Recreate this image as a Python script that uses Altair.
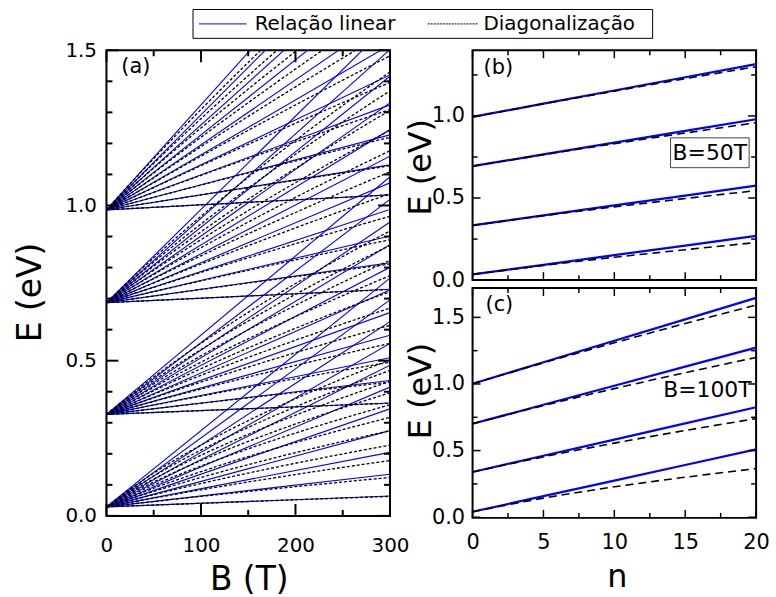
import altair as alt
import pandas as pd

FONT = "DejaVu Sans"
BLUE = "#0000ff"

# ---------------- values ----------------
# panel (a): four subband edges at B = 0 and the Landau fan (levels n = 0..10)
subband_edge = [0.029, 0.327, 0.687, 0.986]          # eV at B = 0
spacing_50T = [0.0117, 0.01215, 0.0143, 0.0161]      # level spacing at 50 T (eV), slope of (b)
bend_scale = [0.85, 2.0, 3.5, 7.0]                   # how strongly the dashed curves bend (eV)
levels_a = list(range(11))
B_samples = list(range(0, 301, 10))

# panels (b) and (c): E versus n
n_values = [0, 5, 10, 15, 20]
b_lin_1 = [0.035, 0.093, 0.152, 0.210, 0.269]
b_lin_2 = [0.333, 0.394, 0.455, 0.515, 0.576]
b_lin_3 = [0.694, 0.766, 0.837, 0.909, 0.980]
b_lin_4 = [0.994, 1.075, 1.155, 1.236, 1.316]
b_dia_1 = [0.035, 0.089, 0.139, 0.185, 0.229]
b_dia_2 = [0.333, 0.392, 0.446, 0.497, 0.545]
b_dia_3 = [0.694, 0.764, 0.831, 0.896, 0.959]
b_dia_4 = [0.994, 1.074, 1.151, 1.227, 1.300]
c_lin_1 = [0.041, 0.158, 0.275, 0.392, 0.509]
c_lin_2 = [0.339, 0.461, 0.582, 0.704, 0.825]
c_lin_3 = [0.701, 0.844, 0.987, 1.130, 1.273]
c_lin_4 = [1.002, 1.163, 1.324, 1.485, 1.646]
c_dia_1 = [0.041, 0.143, 0.228, 0.300, 0.365]
c_dia_2 = [0.339, 0.453, 0.556, 0.651, 0.740]
c_dia_3 = [0.701, 0.838, 0.965, 1.085, 1.199]
c_dia_4 = [1.002, 1.159, 1.309, 1.454, 1.593]

panel_tags = ["(a)", "(b)", "(c)"]
field_tags = ["B=50T", "B=100T"]
legend_labels = ["Relação linear", "Diagonalização"]

# ---------------- tables ----------------
rows_lin, rows_dia = [], []
for i, (e0, s50, g) in enumerate(zip(subband_edge, spacing_50T, bend_scale)):
    for n in levels_a:
        cid = f"s{i}n{n}"
        for B in [0, 300]:
            eps = (n + 0.5) * s50 * B / 50.0
            rows_lin.append({"x": B, "E": e0 + eps, "curve": cid})
        for B in B_samples:
            eps = (n + 0.5) * s50 * B / 50.0
            eps_d = 0.5 * g * ((1 + 4 * eps / g) ** 0.5 - 1)
            rows_dia.append({"x": B, "E": e0 + eps_d, "curve": cid})
a_lin = pd.DataFrame(rows_lin)
a_dia = pd.DataFrame(rows_dia)


def series_df(lists, tag):
    rows = []
    for k, vals in enumerate(lists):
        for n, e in zip(n_values, vals):
            rows.append({"x": n, "E": e, "curve": f"{tag}{k}"})
    return pd.DataFrame(rows)


b_lin = series_df([b_lin_1, b_lin_2, b_lin_3, b_lin_4], "bl")
b_dia = series_df([b_dia_1, b_dia_2, b_dia_3, b_dia_4], "bd")
c_lin = series_df([c_lin_1, c_lin_2, c_lin_3, c_lin_4], "cl")
c_dia = series_df([c_dia_1, c_dia_2, c_dia_3, c_dia_4], "cd")


def make_axis(values, fmt, title, lsize, tsize, lpad, tx, ty, **kw):
    return alt.Axis(values=values, format=fmt, title=title, ticks=False, tickSize=0,
                    domain=False, grid=False, labelFontSize=lsize, titleFontSize=tsize,
                    labelPadding=lpad, labelFlush=False, labelOverlap=False,
                    labelFont=FONT, titleFont=FONT, titleFontWeight="normal",
                    labelColor="black", titleColor="black", titleX=tx, titleY=ty,
                    titleBaseline="middle", titleAlign="center", **kw)


def tick_layers(W, H, xs, ys, xax, yax, xmaj, xmin, ymaj, ymin, Lmaj, Lmin, sw):
    out = []
    for vals, L in [(ymaj, Lmaj), (ymin, Lmin)]:
        df = pd.DataFrame({"v": vals})
        yenc = alt.Y("v:Q", scale=ys, axis=yax)
        out.append(alt.Chart(df).mark_rule(color="black", strokeWidth=sw).encode(
            x=alt.value(0), x2=alt.value(L), y=yenc))
        out.append(alt.Chart(df).mark_rule(color="black", strokeWidth=sw).encode(
            x=alt.value(W - L), x2=alt.value(W), y=yenc))
    for vals, L in [(xmaj, Lmaj), (xmin, Lmin)]:
        df = pd.DataFrame({"v": vals})
        xenc = alt.X("v:Q", scale=xs, axis=xax)
        out.append(alt.Chart(df).mark_rule(color="black", strokeWidth=sw).encode(
            y=alt.value(H - L), y2=alt.value(H), x=xenc))
        out.append(alt.Chart(df).mark_rule(color="black", strokeWidth=sw).encode(
            y=alt.value(0), y2=alt.value(L), x=xenc))
    return out


def text_layer(txt, x, y, size, align="left"):
    return alt.Chart(pd.DataFrame({"t": [txt]})).mark_text(
        font=FONT, fontSize=size, align=align, baseline="middle", color="black"
    ).encode(text="t:N", x=alt.value(x), y=alt.value(y))


frame = alt.ViewBackground(stroke="black", strokeWidth=2, fill="white")

# ---------------- panel (a) ----------------
WA, HA = 285, 468
xsA = alt.Scale(domain=[0, 300], nice=False, zero=False)
ysA = alt.Scale(domain=[0, 1.5], nice=False, zero=False)
axA_x = make_axis([0, 100, 200, 300], "d", "B (T)", 20, 33, 20, 143, 64)
axA_y = make_axis([0, 0.5, 1.0, 1.5], ".1f", "E (eV)", 20, 33, 10, -76, 243)

a_blue = alt.Chart(a_lin).mark_line(color=BLUE, strokeWidth=1.1, clip=True).encode(
    x=alt.X("x:Q", scale=xsA, axis=axA_x), y=alt.Y("E:Q", scale=ysA, axis=axA_y),
    detail="curve:N")
a_black = alt.Chart(a_dia).mark_line(color="black", strokeWidth=1.3, strokeDash=[3, 2],
                                     clip=True, interpolate="monotone").encode(
    x=alt.X("x:Q", scale=xsA, axis=axA_x), y=alt.Y("E:Q", scale=ysA, axis=axA_y),
    detail="curve:N")
ticksA = tick_layers(WA, HA, xsA, ysA, axA_x, axA_y, [0, 100, 200, 300], [50, 150, 250],
                     [0, 0.5, 1.0, 1.5],
                     [0.1, 0.2, 0.3, 0.4, 0.6, 0.7, 0.8, 0.9, 1.1, 1.2, 1.3, 1.4],
                     12, 6, 2)
panelA = alt.layer(a_blue, a_black, *ticksA, text_layer(panel_tags[0], 15, 17, 21)
                   ).properties(width=WA, height=HA, view=frame)

# ---------------- panels (b) and (c) ----------------
WB, HB = 285, 231
xsB = alt.Scale(domain=[0, 20], nice=False, zero=False)
ysB = alt.Scale(domain=[0, 1.40], nice=False, zero=False)
ysC = alt.Scale(domain=[-0.005, 1.72], nice=False, zero=False)
axB_y = make_axis([0, 0.5, 1.0], ".1f", "E (eV)", 21, 32, 8, -52, 117)
axC_y = make_axis([0, 0.5, 1.0, 1.5], ".1f", "E (eV)", 21, 32, 8, -52, 103)
axC_x = make_axis([0, 5, 10, 15, 20], "d", "n", 21, 32, 14, 145, 59)

b_blue = alt.Chart(b_lin).mark_line(color=BLUE, strokeWidth=2.2, clip=True).encode(
    x=alt.X("x:Q", scale=xsB, axis=None), y=alt.Y("E:Q", scale=ysB, axis=axB_y),
    detail="curve:N")
b_black = alt.Chart(b_dia).mark_line(color="black", strokeWidth=1.6, strokeDash=[8, 5],
                                     clip=True, interpolate="monotone").encode(
    x=alt.X("x:Q", scale=xsB, axis=None), y=alt.Y("E:Q", scale=ysB, axis=axB_y),
    detail="curve:N")
ticksB = tick_layers(WB, HB, xsB, ysB, None, axB_y, [0, 5, 10, 15, 20],
                     [2.5, 7.5, 12.5, 17.5], [0, 0.5, 1.0], [0.25, 0.75, 1.25], 8, 5, 1.5)
one = pd.DataFrame({"k": [0]})
b_box = alt.Chart(one).mark_rect(fill="white", stroke="#444444", strokeWidth=1).encode(
    x=alt.value(199), x2=alt.value(278), y=alt.value(88), y2=alt.value(118))
panelB = alt.layer(b_blue, b_black, *ticksB, text_layer(panel_tags[1], 11, 18, 21),
                   b_box, text_layer(field_tags[0], 238.5, 103, 22, "center")
                   ).properties(width=WB, height=HB, view=frame)

c_blue = alt.Chart(c_lin).mark_line(color=BLUE, strokeWidth=2.2, clip=True).encode(
    x=alt.X("x:Q", scale=xsB, axis=axC_x), y=alt.Y("E:Q", scale=ysC, axis=axC_y),
    detail="curve:N")
c_black = alt.Chart(c_dia).mark_line(color="black", strokeWidth=1.6, strokeDash=[8, 5],
                                     clip=True, interpolate="monotone").encode(
    x=alt.X("x:Q", scale=xsB, axis=axC_x), y=alt.Y("E:Q", scale=ysC, axis=axC_y),
    detail="curve:N")
ticksC = tick_layers(WB, HB, xsB, ysC, axC_x, axC_y, [0, 5, 10, 15, 20],
                     [2.5, 7.5, 12.5, 17.5], [0, 0.5, 1.0, 1.5], [0.25, 0.75, 1.25],
                     8, 5, 1.5)
panelC = alt.layer(c_blue, c_black, *ticksC, text_layer(panel_tags[2], 13, 17, 21),
                   text_layer(field_tags[1], 236, 103, 22, "center")
                   ).properties(width=WB, height=HB, view=frame)

# ---------------- legend strip ----------------
leg_box = alt.Chart(one).mark_rect(fill="white", stroke="black", strokeWidth=1).encode(
    x=alt.value(87), x2=alt.value(549), y=alt.value(1), y2=alt.value(30))
leg_blue = alt.Chart(one).mark_rule(color=BLUE, strokeWidth=1).encode(
    x=alt.value(93), x2=alt.value(141), y=alt.value(15.5))
leg_black = alt.Chart(one).mark_rule(color="black", strokeWidth=1, strokeDash=[2, 1]).encode(
    x=alt.value(323), x2=alt.value(373), y=alt.value(15.5))
legend = alt.layer(leg_box, leg_blue, leg_black,
                   text_layer(legend_labels[0], 149, 16, 20),
                   text_layer(legend_labels[1], 379, 16, 20)).properties(
    width=560, height=31,
    view=alt.ViewBackground(fill="white", stroke="white", strokeWidth=0))

right = alt.vconcat(panelB, panelC, spacing=8, bounds="flush")
row = alt.hconcat(panelA, right, spacing=83, bounds="flush")
chart = alt.vconcat(legend, row, spacing=0).properties(
    padding={"left": 14, "top": 7, "right": 5, "bottom": 0}
).configure(font=FONT, background="white")

chart.save("out.html", embed_options={"renderer": "svg", "actions": False})
